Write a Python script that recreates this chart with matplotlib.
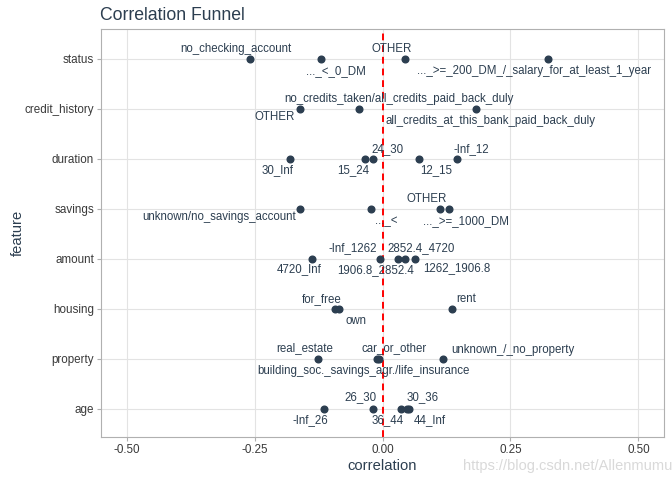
import matplotlib
matplotlib.use('Agg')
import matplotlib.pyplot as plt

plt.rcParams['font.family'] = ['Liberation Sans', 'DejaVu Sans']

# Features, top to bottom
features = ['status', 'credit_history', 'duration', 'savings',
            'amount', 'housing', 'property', 'age']

status_levels = ['no_checking_account', '..._<_0_DM', 'OTHER',
                 '..._>=_200_DM_/_salary_for_at_least_1_year']
status_corr = [-0.259, -0.121, 0.044, 0.323]

credit_levels = ['OTHER', 'no_credits_taken/all_credits_paid_back_duly',
                 'all_credits_at_this_bank_paid_back_duly']
credit_corr = [-0.161, -0.045, 0.183]

duration_levels = ['30_Inf', '15_24', '24_30', '12_15', '-Inf_12']
duration_corr = [-0.180, -0.034, -0.018, 0.072, 0.145]

savings_levels = ['unknown/no_savings_account', '..._<', 'OTHER', '..._>=_1000_DM']
savings_corr = [-0.162, -0.023, 0.113, 0.129]

amount_levels = ['4720_Inf', '-Inf_1262', '1906.8_2852.4', '2852.4_4720', '1262_1906.8']
amount_corr = [-0.137, -0.004, 0.031, 0.043, 0.064]

housing_levels = ['for_free', 'own', 'rent']
housing_corr = [-0.093, -0.085, 0.135]

property_levels = ['real_estate', 'building_soc._savings_agr./life_insurance',
                   'car_or_other', 'unknown_/_no_property']
property_corr = [-0.126, -0.011, -0.007, 0.119]

age_levels = ['-Inf_26', '26_30', '36_44', '30_36', '44_Inf']
age_corr = [-0.114, -0.018, 0.036, 0.048, 0.052]

levels = [status_levels, credit_levels, duration_levels, savings_levels,
          amount_levels, housing_levels, property_levels, age_levels]
corrs = [status_corr, credit_corr, duration_corr, savings_corr,
         amount_corr, housing_corr, property_corr, age_corr]

# Label placement (repel-like layout): x centre, vertical offset in rows
UP, DN = 0.205, -0.25
label_layout = [
    [(-0.286, UP), (-0.091, DN), (0.017, UP), (0.296, DN)],
    [(-0.211, -0.16), (0.033, UP), (0.211, DN)],
    [(-0.205, -0.235), (-0.058, -0.235), (0.010, UP), (0.104, -0.235), (0.174, UP)],
    [(-0.320, -0.16), (0.008, DN), (0.086, UP), (0.164, -0.24)],
    [(-0.162, -0.198), (-0.058, UP), (-0.014, -0.23), (0.076, UP), (0.145, -0.19)],
    [(-0.119, 0.20), (-0.051, -0.24), (0.164, 0.20)],
    [(-0.152, UP), (-0.037, -0.24), (0.022, 0.22), (0.254, 0.17)],
    [(-0.141, -0.24), (-0.043, 0.22), (0.010, -0.24), (0.078, 0.22), (0.092, -0.24)],
]

dark = '#2c3e50'
fig = plt.figure(figsize=(6.72, 4.8), dpi=100)
ax = fig.add_axes([101 / 672, 43 / 480, 563 / 672, 408 / 480])

n = len(features)
for i, feat in enumerate(features):
    y = n - i
    ax.scatter(corrs[i], [y] * len(corrs[i]), s=23, color=dark, zorder=3)
    for lab, (lx, dy) in zip(levels[i], label_layout[i]):
        ax.text(lx, y + dy, lab, ha='center', va='center', fontsize=8.3,
                color=dark, zorder=4)

ax.axvline(0, color='red', ls=(0, (3.5, 2.5)), lw=1.4, zorder=2)

ax.set_xlim(-0.55, 0.55)
ax.set_ylim(0.43, n + 0.6)
ax.set_xticks([-0.5, -0.25, 0, 0.25, 0.5])
ax.set_xticklabels(['-0.50', '-0.25', '0.00', '0.25', '0.50'])
ax.set_yticks(range(n, 0, -1))
ax.set_yticklabels(features)
ax.tick_params(labelsize=8.4, labelcolor='#3a3a3a', color='#b0b0b0',
               length=3, width=0.8)
ax.tick_params(axis='y', pad=2)
ax.tick_params(axis='x', pad=2)
ax.grid(True, color='#e3e3e3', lw=0.8, zorder=0)
ax.set_axisbelow(True)
for sp in ax.spines.values():
    sp.set_color('#b0b0b0')
    sp.set_linewidth(0.8)

ax.set_xlabel('correlation', fontsize=10.6, color=dark)
ax.xaxis.set_label_coords(0.5, -(459 - 437) / 408)
ax.set_ylabel('feature', fontsize=10.6, color=dark)
ax.yaxis.set_label_coords(-(101 - 25) / 563, 0.5)
fig.text(100 / 672, 1 - 16 / 480, 'Correlation Funnel', fontsize=12.7,
         color=dark, va='center', ha='left')
fig.text(1.0, 1 - 466 / 480, 'https://blog.csdn.net/Allenmumu', fontsize=10.5,
         color='#d9d9d9', ha='right', va='center')

fig.savefig('out.png', dpi=100)
